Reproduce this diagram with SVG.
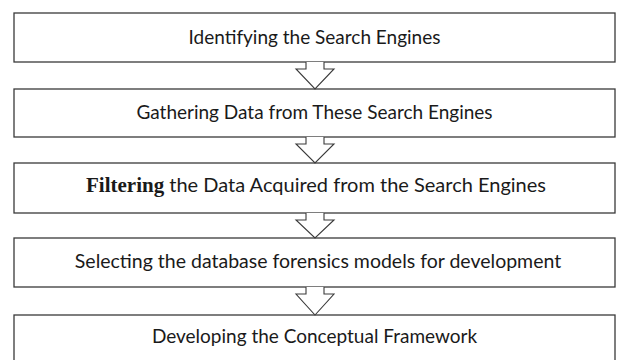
<svg xmlns="http://www.w3.org/2000/svg" width="618" height="360" viewBox="0 0 618 360">
<style>
.box{fill:#fff;stroke:#3a3a3a;stroke-width:1.3}
.arr{fill:#fff;stroke:#3a3a3a;stroke-width:1.1;stroke-linejoin:miter}
.t{font-family:Lato,"Open Sans",sans-serif;font-size:19px;fill:#1a1a1a;text-anchor:middle}
.s{font-family:"Liberation Serif","Times New Roman",serif;font-weight:bold;font-size:21px}
</style>
<rect width="618" height="360" fill="#fff"/>
<g id="n1"><rect class="box" x="14" y="13" width="601" height="49"/><text class="t" x="314.5" y="44">Identifying the Search Engines</text></g>
<g id="n2"><rect class="box" x="14" y="89" width="601" height="48"/><text class="t" x="314.5" y="119">Gathering Data from These Search Engines</text></g>
<g id="n3"><rect class="box" x="14" y="163" width="601" height="50"/><text class="t" x="316" y="192" style="font-size:20px"><tspan class="s">Filtering</tspan> the Data Acquired from the Search Engines</text></g>
<g id="n4"><rect class="box" x="14" y="238" width="601" height="49"/><text class="t" x="318" y="268" style="font-size:19.5px">Selecting the database forensics models for development</text></g>
<g id="n5"><rect class="box" x="14" y="315" width="601" height="60"/><text class="t" x="314.5" y="343">Developing the Conceptual Framework</text></g>
<g id="connectors">
<path class="arr" d="M306,62 V69 H296 L315,89 L334,69 H324 V62"/>
<path class="arr" d="M306,137 V144 H296 L315,163 L334,144 H324 V137"/>
<path class="arr" d="M306,213 V220 H296 L315,238 L334,220 H324 V213"/>
<path class="arr" d="M306,287 V294 H296 L315,315 L334,294 H324 V287"/>
</g>
</svg>
